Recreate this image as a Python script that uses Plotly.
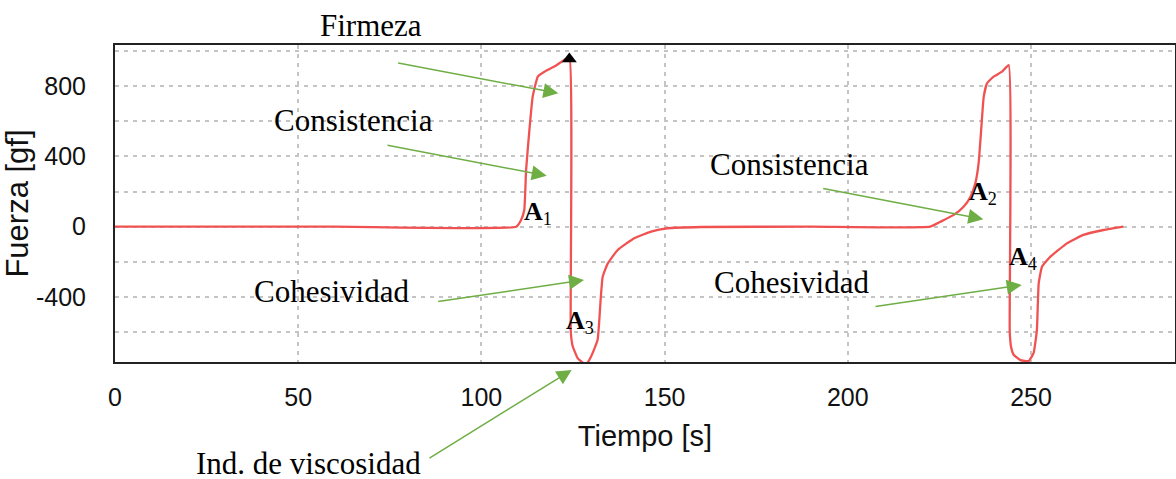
import plotly.graph_objects as go

# ---------------- data ----------------
time_s = [0, 60, 109.5, 110.8, 111.7, 112.2, 113.1, 114.0, 115.4, 117.2, 119.9, 122.6, 124.0,
          124.4, 124.9, 126.3, 127.7, 128.8, 129.9, 131.7, 132.6, 133.1, 134.5, 137.2, 141.7,
          146.3, 150.8, 160, 190,
          222.5, 225.3, 228.9, 231.6, 233.5, 234.8, 235.7, 236.4, 237.1, 238.0, 239.8, 242.1, 243.9,
          244.2, 244.6, 245.3, 247.1, 249.4, 250.7, 251.6, 252.1, 253.0, 255.3, 259.8, 264.3,
          269.8, 275.2]
force_gf = [0, 0, 0, 37, 95, 323, 551, 741, 855, 883, 912, 950, 965,
            -600, -680, -750, -775, -778, -741, -646, -399, -285, -209, -133, -66,
            -28, -9, -2, 0,
            0, 28, 67, 114, 171, 247, 361, 551, 741, 817, 855, 883, 921,
            -600, -690, -731, -760, -765, -721, -589, -323, -228, -171, -95, -47,
            -19, 0]

peak_time = [124.0]
peak_force = [955]

x_ticks = [0, 50, 100, 150, 200, 250]
y_ticks = [-400, 0, 400, 800]
y_tick_text = ["-400", "0", "400", "800"]

note_texts = ["Firmeza", "Consistencia", "Cohesividad", "Ind. de viscosidad",
              "Consistencia", "Cohesividad"]
point_labels = ["<b>A</b><sub>1</sub>", "<b>A</b><sub>3</sub>",
                "<b>A</b><sub>2</sub>", "<b>A</b><sub>4</sub>"]

# ---------------- layout geometry ----------------
W, H = 1176, 479
ML, MR, MT, MB = 115, 1, 45, 117
PW, PH = W - ML - MR, H - MT - MB

def px(xp, yp):
    return (xp - ML) / PW, (H - MB - yp) / PH

note_pos = [(370.5, 26), (353, 121), (331, 291), (308, 463), (789, 164), (791.5, 282)]
arrows = [((396.7, 62.7), (558.3, 93.3)),
          ((386, 145), (546.7, 175.7)),
          ((436.7, 301.7), (584, 280)),
          ((428, 459), (571.7, 370)),
          ((821.7, 188.3), (983.3, 219.3)),
          ((874, 306.7), (1021.7, 285))]
label_pos = [(538, 213), (580, 322), (983, 193), (1023, 258)]

fig = go.Figure()
fig.add_trace(go.Scatter(x=time_s, y=force_gf, mode="lines",
                         line=dict(color="#f05252", width=2.3, shape="spline", smoothing=0.4),
                         showlegend=False, hoverinfo="skip"))
fig.add_trace(go.Scatter(x=peak_time, y=peak_force, mode="markers",
                         marker=dict(symbol="triangle-up", size=13, color="black"),
                         showlegend=False, hoverinfo="skip", cliponaxis=False))

annotations = []
for t, (xp, yp) in zip(note_texts, note_pos):
    x, y = px(xp, yp)
    annotations.append(dict(text=t, x=x, y=y, xref="paper", yref="paper",
                            xanchor="center", yanchor="middle", showarrow=False,
                            font=dict(family="Liberation Serif, Times New Roman, serif",
                                      size=31, color="black")))
for (tail, tip) in arrows:
    x, y = px(*tip)
    annotations.append(dict(text="", x=x, y=y, xref="paper", yref="paper",
                            ax=tail[0] - tip[0], ay=tail[1] - tip[1],
                            showarrow=True, arrowhead=2, arrowsize=2,
                            arrowwidth=1.5, arrowcolor="#6fae45", standoff=0))
for t, (xp, yp) in zip(point_labels, label_pos):
    x, y = px(xp, yp)
    annotations.append(dict(text=t, x=x, y=y, xref="paper", yref="paper",
                            xanchor="center", yanchor="middle", showarrow=False,
                            font=dict(family="Liberation Serif, Times New Roman, serif",
                                      size=26, color="black")))

grid = dict(gridcolor="#c4c4c4", griddash="4px,5px", gridwidth=1.5)

fig.update_layout(
    width=W, height=H,
    margin=dict(l=ML, r=MR, t=MT, b=MB, autoexpand=False),
    plot_bgcolor="white", paper_bgcolor="white",
    annotations=annotations,
    xaxis=dict(range=[0, 289.3], tickmode="array", tickvals=x_ticks,
               showgrid=True, **grid, zeroline=False,
               showline=True, mirror=True, linecolor="#222", linewidth=2,
               ticks="", ticklabelstandoff=12,
               tickfont=dict(family="Liberation Sans, Arial", size=25, color="#111"),
               title=dict(text="Tiempo [s]", standoff=16,
                          font=dict(family="Liberation Sans, Arial", size=29, color="#111"))),
    yaxis=dict(range=[-771, 1035], tickmode="array", tickvals=y_ticks, ticktext=y_tick_text,
               showgrid=True, **grid, zeroline=False,
               minor=dict(tickmode="linear", dtick=200, tick0=0, showgrid=True, **grid),
               showline=True, mirror=True, linecolor="#222", linewidth=2,
               ticks="", ticklabelstandoff=22,
               tickfont=dict(family="Liberation Sans, Arial", size=25, color="#111"),
               title=dict(text="Fuerza [gf]", standoff=1,
                          font=dict(family="Liberation Sans, Arial", size=31, color="#111"))),
)

fig.write_html("out.html", config={"displayModeBar": False},
               post_script="document.body.style.margin='0';")
